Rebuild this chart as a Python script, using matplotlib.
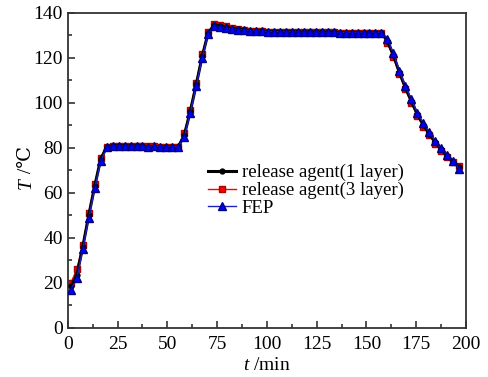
"""
Temperature curves for release agent / FEP
"""

import matplotlib
matplotlib.use('Agg')
from matplotlib import pyplot as plt
from matplotlib.ticker import MultipleLocator

t_min = [1.5, 4.5, 7.5, 10.5, 13.5, 16.5, 19.5, 22.5, 25.5, 28.5, 31.5, 34.5,
         37.5, 40.5, 43.5, 46.5, 49.5, 52.5, 55.5, 58.5, 61.5, 64.5, 67.5, 70.5,
         73.5, 76.5, 79.5, 82.5, 85.5, 88.5, 91.5, 94.5, 97.5, 100.5, 103.5,
         106.5, 109.5, 112.5, 115.5, 118.5, 121.5, 124.5, 127.5, 130.5, 133.5,
         136.5, 139.5, 142.5, 145.5, 148.5, 151.5, 154.5, 157.5, 160.5, 163.5,
         166.5, 169.5, 172.5, 175.5, 178.5, 181.5, 184.5, 187.5, 190.5, 193.5,
         196.5]

agent_1 = [18.5, 23.5, 36, 50, 63, 75,
           80.4, 80.9, 80.9, 80.8, 80.8, 80.7, 80.7, 80.6, 80.6, 80.6, 80.5, 80.5, 80.5,
           85.7, 96.2, 108.2, 120.7, 131.1, 134.5,
           134.1, 133.6, 133.0, 132.6, 132.3, 132.0, 131.9, 131.8, 131.7, 131.6,
           131.6, 131.5, 131.5, 131.4, 131.4, 131.4, 131.3, 131.3, 131.3, 131.3,
           131.2, 131.2, 131.2, 131.2, 131.2, 131.1, 131.1, 131.1,
           127.5, 121.2, 113.6, 106.9, 100.8, 95.0, 90.3, 86.3, 82.5, 79.4, 76.5,
           73.9, 71.4]

agent_3 = [20, 26, 37, 51, 64, 75.5,
           80.5, 81.0, 81.0, 80.9, 80.9, 80.8, 80.8, 80.7, 80.7, 80.6, 80.6, 80.5, 80.6,
           86.5, 97, 109, 121.5, 131.5, 135,
           134.6, 134.0, 133.3, 132.8, 132.4, 132.1, 131.9, 131.8, 131.7, 131.6,
           131.6, 131.5, 131.5, 131.4, 131.4, 131.4, 131.3, 131.3, 131.3, 131.3,
           131.2, 131.2, 131.2, 131.2, 131.2, 131.1, 131.1, 131.1,
           126.5, 120.2, 112.9, 106.1, 100.0, 94.2, 89.5, 85.6, 81.8, 78.8, 76.0,
           73.6, 72.1]

fep = [17, 22, 35, 49, 62, 74,
       80.3, 80.8, 80.9, 80.8, 80.7, 80.8, 80.7, 80.6, 80.7, 80.6, 80.6, 80.5, 80.6,
       85, 95.5, 107.5, 120, 130.8, 134,
       133.6, 133.2, 132.8, 132.5, 132.2, 132.0, 131.9, 131.8, 131.7, 131.6,
       131.6, 131.5, 131.5, 131.4, 131.4, 131.4, 131.3, 131.3, 131.3, 131.3,
       131.2, 131.2, 131.2, 131.2, 131.2, 131.1, 131.1, 131.2,
       128.4, 122.1, 114.3, 107.6, 101.6, 95.7, 91.0, 87.0, 83.1, 79.9, 76.9,
       74.2, 70.7]

labels = ['release agent(1 layer)', 'release agent(3 layer)', 'FEP']


def main():
    plt.rcParams['font.family'] = ['Liberation Serif', 'DejaVu Serif']
    plt.rcParams['mathtext.fontset'] = 'custom'
    plt.rcParams['mathtext.rm'] = 'Liberation Serif'
    plt.rcParams['mathtext.it'] = 'Liberation Serif:italic'

    fig = plt.figure(figsize=(4.88, 3.77), dpi=100)
    ax = fig.add_axes([0.139, 0.130, 0.816, 0.836])

    ax.plot(t_min, agent_1, '-o', color='black', lw=2.2, ms=3.5,
            label=labels[0], zorder=3)
    ax.plot(t_min, agent_3, '-s', color='red', lw=1.0, ms=5,
            mec='#b00000', label=labels[1], zorder=2)
    ax.plot(t_min, fep, '-^', color='#2020c0', mfc='blue', mec='#000080',
            lw=1.0, ms=6, label=labels[2], zorder=4)

    ax.set_xlim(0, 200)
    ax.set_ylim(0, 140)
    ax.xaxis.set_major_locator(MultipleLocator(25))
    ax.xaxis.set_minor_locator(MultipleLocator(12.5))
    ax.yaxis.set_major_locator(MultipleLocator(20))
    ax.yaxis.set_minor_locator(MultipleLocator(10))
    ax.tick_params(which='both', direction='in', top=False, right=False,
                   labelsize=14, color='#333333', width=1.2)
    ax.tick_params(which='major', length=5)
    ax.tick_params(which='minor', length=3)
    ax.tick_params(axis='x', pad=6)
    for sp in ax.spines.values():
        sp.set_color('#333333')
        sp.set_linewidth(1.3)

    ax.set_xlabel(r'$t$ /min', fontsize=14, labelpad=3)

    # y label: italic T plus upright unit, ℃ comes from the DejaVu fallback
    fig.text(0.054, 0.528, 'T', rotation=90, fontsize=14, style='italic',
             ha='center', va='top')
    fig.text(0.054, 0.528, ' /℃', rotation=90, fontsize=14,
             ha='center', va='bottom')

    ax.legend(loc='upper left', bbox_to_anchor=(0.352, 0.52), frameon=False,
              fontsize=13.5, handlelength=1.5, handletextpad=0.3,
              labelspacing=0.03, borderaxespad=0, borderpad=0)

    plt.savefig('out.png', dpi=100)


if __name__ == "__main__":
    main()
